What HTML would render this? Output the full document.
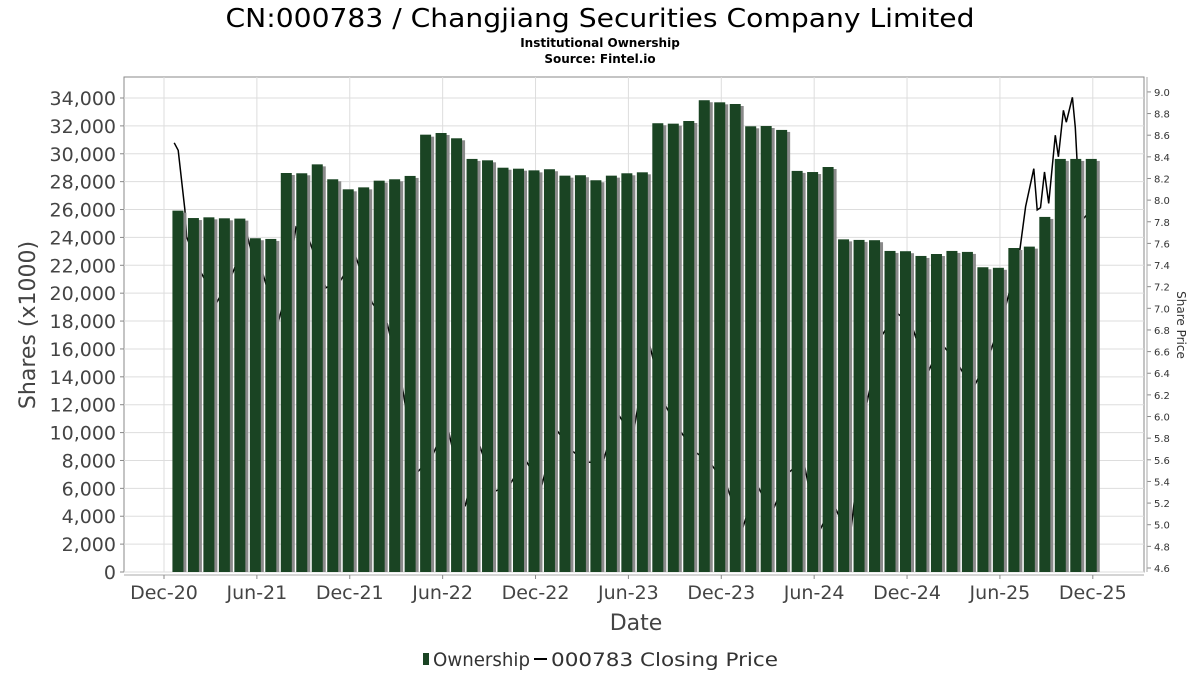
<!DOCTYPE html>
<html><head><meta charset="utf-8"><style>
body{margin:0;background:#fff;}
svg text{font-family:"DejaVu Sans","Liberation Sans",sans-serif;}
</style></head><body>
<svg id="chart" width="1200" height="675" xmlns="http://www.w3.org/2000/svg">
<text x="600" y="27" text-anchor="middle" font-size="26" textLength="749" lengthAdjust="spacingAndGlyphs" fill="#000">CN:000783 / Changjiang Securities Company Limited</text>
<text x="600" y="47" text-anchor="middle" font-size="12" font-weight="bold">Institutional Ownership</text>
<text x="600" y="63" text-anchor="middle" font-size="12" font-weight="bold">Source: Fintel.io</text>
<g id="grid"></g><g id="line"></g><g id="bars"></g><g id="axes"></g>
<text transform="translate(35,325) rotate(-90)" text-anchor="middle" font-size="22" fill="#444">Shares (x1000)</text>
<text transform="translate(1177,325) rotate(90)" text-anchor="middle" font-size="12" fill="#333">Share Price</text>
<text x="636" y="630" text-anchor="middle" font-size="22" fill="#444">Date</text>
<g>
<rect x="423" y="653" width="6" height="12" fill="#1a4423"/>
<text x="433" y="666" font-size="19" textLength="97" lengthAdjust="spacingAndGlyphs" fill="#333">Ownership</text>
<line x1="534" y1="659" x2="547" y2="659" stroke="#000" stroke-width="2"/>
<text x="551" y="666" font-size="19" textLength="227" lengthAdjust="spacingAndGlyphs" fill="#333">000783 Closing Price</text>
</g>
</svg>
<script>
const ownership=[25920,25390,25440,25370,25350,23940,23890,28620,28600,29240,28170,27450,27590,28070,28170,28410,31370,31490,31110,29630,29530,29000,28930,28810,28890,28430,28460,28100,28430,28600,28670,32190,32160,32350,33840,33690,33570,31970,31990,31710,28770,28690,29050,23860,23820,23800,23030,23010,22670,22810,23030,22960,21860,21820,23240,23340,25470,29630,29630,29630];
const priceMonths=[0.66,0.92,1.35,1.46,2.31,3.43,4.24,5.40,5.96,6.36,7.35,7.78,8.53,9.38,10.46,11.42,12.38,13.45,14.42,15.38,16.34,17.31,18.27,19.45,20.42,21.38,22.35,23.31,24.38,25.34,26.31,27.27,28.34,29.31,30.27,31.34,32.31,33.27,34.34,35.30,36.38,37.34,38.30,39.27,40.34,41.30,42.27,43.23,44.30,45.26,46.34,47.30,48.26,49.34,50.19,51.27,52.23,53.19,54.26,55.23,55.66,56.19,56.41,56.62,56.88,57.15,57.58,57.78,58.1,58.29,58.68,58.87,59.19,60.2];
const priceValues=[8.53,8.46,7.91,7.66,7.35,7.06,7.26,7.66,7.35,7.33,6.86,7.08,7.75,7.63,7.19,7.26,7.48,7.05,6.86,6.28,5.48,5.63,5.94,5.17,5.72,5.31,5.37,5.61,5.35,5.88,5.69,5.58,5.57,6.03,5.81,6.68,6.12,5.88,5.67,5.57,5.35,4.95,5.37,5.11,5.48,5.60,4.92,5.20,4.86,6.03,6.74,6.96,6.86,6.40,6.68,6.49,6.25,6.52,6.96,7.48,7.94,8.29,7.91,7.93,8.26,7.97,8.6,8.4,8.83,8.72,8.95,8.67,7.8,7.95];
const yTicks=[0,2000,4000,6000,8000,10000,12000,14000,16000,18000,20000,22000,24000,26000,28000,30000,32000,34000];
const y2Ticks=[4.6,4.8,5.0,5.2,5.4,5.6,5.8,6.0,6.2,6.4,6.6,6.8,7.0,7.2,7.4,7.6,7.8,8.0,8.2,8.4,8.6,8.8,9.0];
const xTickLabels=["Dec-20","Jun-21","Dec-21","Jun-22","Dec-22","Jun-23","Dec-23","Jun-24","Dec-24","Jun-25","Dec-25"];
const NS="http://www.w3.org/2000/svg";
const L=124,R=1144,T=77,B=572;
function xOf(m){return 164+m*15.48;}
function yOf(v){return 572-v*(474/34000);}
function y2Of(p){return 568-(p-4.6)*108.2;}
function mk(tag,attrs,parent){const e=document.createElementNS(NS,tag);for(const k in attrs)e.setAttribute(k,attrs[k]);parent.appendChild(e);return e;}
const grid=document.getElementById('grid'),axes=document.getElementById('axes'),bars=document.getElementById('bars'),lineG=document.getElementById('line');
let e=mk('rect',{x:L,y:T,width:R-L,height:B-T,fill:'#fff',stroke:'#888'},grid);


yTicks.forEach(v=>{const y=yOf(v);
 let g=mk('line',{x1:L,x2:R,y1:y,y2:y,stroke:'#ddd'},grid);
 
 
 mk('line',{x1:L-4,x2:L,y1:y,y2:y,stroke:'#888'},axes);
 let t=mk('text',{x:L-8,y:y+7,'text-anchor':'end','font-size':'19',fill:'#444'},axes);t.textContent=v.toLocaleString('en-US');
 
 
});
y2Ticks.forEach(p=>{const y=y2Of(p);
 mk('line',{x1:1147,x2:1151,y1:y,y2:y,stroke:'#888'},axes);
 let t=mk('text',{x:1154,y:y+4,'font-size':'10',fill:'#333'},axes);t.textContent=p.toFixed(1);
 
 
});
mk('line',{x1:1147,x2:1147,y1:T,y2:B,stroke:'#aaa'},axes);
mk('line',{x1:L,x2:R,y1:575,y2:575,stroke:'#aaa'},axes);
xTickLabels.forEach((lab,k)=>{const x=xOf(k*6);
 let g=mk('line',{x1:x,x2:x,y1:T,y2:B,stroke:'#ddd'},grid);
 
 
 mk('line',{x1:x,x2:x,y1:575,y2:579,stroke:'#888'},axes);
 let t=mk('text',{x:x,y:599,'text-anchor':'middle','font-size':'19',fill:'#444'},axes);t.textContent=lab;
 
 
});
let pts=priceMonths.map((m,i)=>xOf(m).toFixed(1)+','+y2Of(priceValues[i]).toFixed(1)).join(' ');
let pl=mk('polyline',{points:pts,fill:'none',stroke:'#000','stroke-width':'1.5'},lineG);


ownership.forEach((v,i)=>{const cx=xOf(i+0.9),y=yOf(v);
 let s=mk('rect',{x:cx-5.5+3,y:y+2,width:11,height:B-y-2,fill:'#8a8a8a'},bars);
 
 
 let b=mk('rect',{x:cx-5.5,y:y,width:11,height:B-y,fill:'#1a4423'},bars);
 
 
});
</script>
</body></html>
